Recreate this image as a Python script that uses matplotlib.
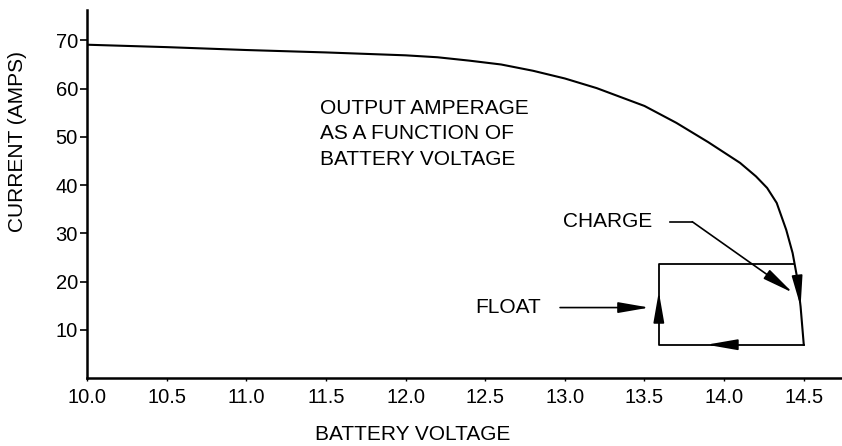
import matplotlib
matplotlib.use("Agg")
import matplotlib.pyplot as plt

plt.rcParams['font.family'] = ['Liberation Sans', 'DejaVu Sans']

# output curve: current vs battery voltage
voltage = [10.0, 10.5, 11.0, 11.5, 12.0, 12.2, 12.4, 12.6, 12.8, 13.0, 13.2,
           13.5, 13.7, 13.9, 14.1, 14.2, 14.27, 14.33, 14.39, 14.43, 14.46,
           14.48, 14.5]
current = [69.1, 68.6, 68.0, 67.5, 66.9, 66.5, 65.8, 65.0, 63.7, 62.1, 60.1,
           56.4, 52.9, 48.9, 44.6, 41.8, 39.4, 36.3, 30.7, 25.9, 20.5,
           14.8, 6.9]

# charge / float loop
loop_v = [14.44, 13.59, 13.59, 14.5]
loop_i = [23.7, 23.7, 6.9, 6.9]

xticks = [10.0, 10.5, 11.0, 11.5, 12.0, 12.5, 13.0, 13.5, 14.0, 14.5]
yticks = [10, 20, 30, 40, 50, 60, 70]

fig = plt.figure(figsize=(8.42, 4.46), dpi=100)
ax = fig.add_axes([87 / 842, 0.1525, 755 / 842, 0.8251])

ax.plot(voltage, current, color='black', lw=1.5)
ax.plot(loop_v, loop_i, color='black', lw=1.3)

def arrow(tail, tip):
    ax.annotate('', xy=tip, xytext=tail,
                arrowprops=dict(arrowstyle='-|>,head_length=1.9,head_width=0.33',
                                mutation_scale=10, color='black', lw=1.2,
                                shrinkA=0, shrinkB=0))

# direction arrows on the loop
arrow((13.59, 12.1), (13.59, 17.9))
arrow((14.05, 6.9), (13.89, 6.9))
arrow((14.463, 19.8), (14.48, 14.8))

# labels with leaders
ax.text(12.99, 32.4, 'CHARGE', fontsize=15, va='center', ha='left')
ax.plot([13.66, 13.80], [32.4, 32.4], color='black', lw=1.2)
arrow((13.80, 32.4), (14.43, 17.7))

ax.text(12.44, 14.6, 'FLOAT', fontsize=15, va='center', ha='left')
arrow((12.97, 14.6), (13.53, 14.6))

ax.text(11.46, 57.9, 'OUTPUT AMPERAGE\nAS A FUNCTION OF\nBATTERY VOLTAGE',
        fontsize=15, va='top', ha='left', linespacing=1.43)

ax.set_xlim(10.0, 14.74)
ax.set_ylim(0, 76.3)
ax.set_xticks(xticks)
ax.set_xticklabels([f'{v:.1f}' for v in xticks])
ax.set_yticks(yticks)
ax.tick_params(axis='x', length=2, width=1, pad=5.5, labelsize=14.5)
ax.tick_params(axis='y', length=5, width=1.2, pad=1.5, labelsize=14.5)

for side in ['top', 'right']:
    ax.spines[side].set_visible(False)
for side in ['left', 'bottom']:
    ax.spines[side].set_linewidth(1.8)

fig.text(413 / 842, 1 - 435 / 446, 'BATTERY VOLTAGE', fontsize=15,
         ha='center', va='center')
fig.text(18 / 842, 1 - 142 / 446, 'CURRENT (AMPS)', fontsize=15,
         ha='center', va='center', rotation=90)

fig.savefig('out.png', dpi=100)
